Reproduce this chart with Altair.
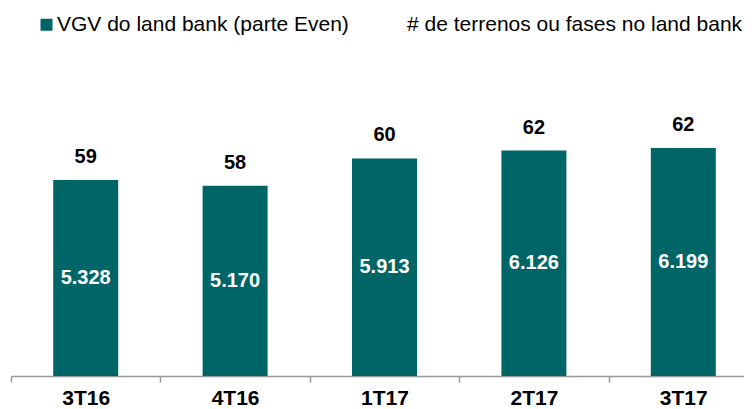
import altair as alt
import pandas as pd

quarters = ["3T16", "4T16", "1T17", "2T17", "3T17"]
vgv = [5328, 5170, 5913, 6126, 6199]
terrenos = [59, 58, 60, 62, 62]
series = ["VGV do land bank (parte Even)", "# de terrenos ou fases no land bank"]

TEAL = "#006567"
FONT = "Liberation Sans, Arial, Helvetica, sans-serif"

df = pd.DataFrame({"q": quarters, "vgv": vgv, "n": terrenos})

base = alt.Chart(df).transform_calculate(
    mid="datum.vgv / 2",
    lbl="replace(format(datum.vgv, ','), ',', '.')",
)

xscale = alt.Scale(paddingInner=0, paddingOuter=0, range=[0, 747])

x = alt.X(
    "q:N",
    sort=quarters,
    title=None,
    scale=xscale,
    axis=alt.Axis(
        labelAngle=0,
        labelFont=FONT,
        labelFontSize=21,
        labelFontWeight="bold",
        labelColor="#000000",
        labelPadding=5,
        labelBaseline="top",
        tickBand="extent",
        tickSize=6,
        tickColor="#999999",
        tickWidth=1.5,
        domainColor="#999999",
        domainWidth=1.5,
        grid=False,
    ),
)
yscale = alt.Scale(domain=[0, 10000])

bars = base.mark_bar(size=65).encode(
    x=x,
    y=alt.Y("vgv:Q", scale=yscale, axis=None),
    color=alt.Color(
        "s:N",
        scale=alt.Scale(domain=series, range=[TEAL, "transparent"]),
        legend=alt.Legend(
            title=None,
            orient="none",
            legendX=25,
            legendY=6,
            direction="horizontal",
            symbolType="square",
            symbolSize=144,
            symbolStrokeWidth=0,
            labelFont=FONT,
            labelFontSize=21,
            labelColor="#000000",
            labelOffset=0,
            labelLimit=1000,
            columnPadding=37,
            padding=0,
        ),
    ),
).transform_calculate(s=f"'{series[0]}'")

inner = base.mark_text(
    font=FONT, fontSize=20, fontWeight="bold", color="white", baseline="middle"
).encode(
    x=alt.X("q:N", sort=quarters, scale=xscale),
    y=alt.Y("mid:Q", scale=yscale),
    text="lbl:N",
)

top = base.mark_text(
    font=FONT, fontSize=20, fontWeight="bold", color="black", baseline="middle", dy=-23
).encode(
    x=alt.X("q:N", sort=quarters, scale=xscale),
    y=alt.Y("vgv:Q", scale=yscale),
    text="n:Q",
)

chart = (
    alt.layer(bars, inner, top)
    .properties(
        width=733,
        height=368,
        autosize=alt.AutoSizeParams(type="none"),
        padding={"left": 3, "top": 0, "right": 0, "bottom": 32},
    )
    .configure_view(stroke=None)
)

chart.save("out.html", embed_options={"renderer": "svg", "actions": False})
